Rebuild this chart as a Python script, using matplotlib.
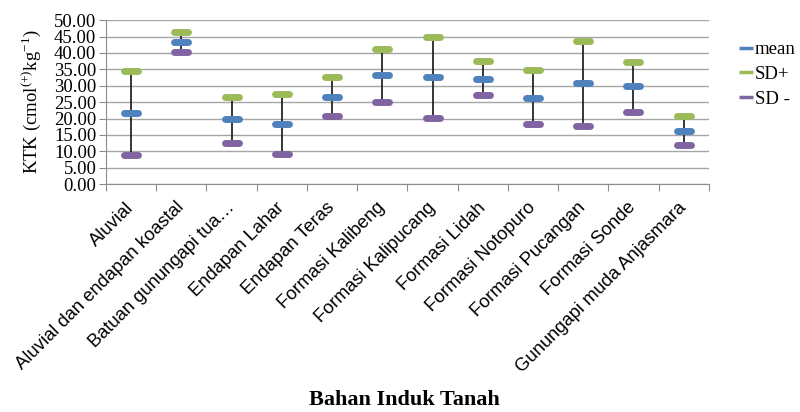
import matplotlib
matplotlib.use("Agg")
import matplotlib.pyplot as plt
from matplotlib.lines import Line2D
from matplotlib.markers import MarkerStyle
import numpy as np

plt.rcParams['mathtext.fontset'] = 'custom'
plt.rcParams['mathtext.rm'] = 'Liberation Serif'
plt.rcParams['mathtext.it'] = 'Liberation Serif:italic'

categories = [
    "Aluvial",
    "Aluvial dan endapan koastal",
    "Batuan gunungapi tua…",
    "Endapan Lahar",
    "Endapan Teras",
    "Formasi Kalibeng",
    "Formasi Kalipucang",
    "Formasi Lidah",
    "Formasi Notopuro",
    "Formasi Pucangan",
    "Formasi Sonde",
    "Gunungapi muda Anjasmara",
]
mean = [21.7, 43.2, 19.8, 18.2, 26.7, 33.4, 32.7, 32.2, 26.4, 30.7, 30.0, 16.2]
sd_plus = [34.6, 46.3, 26.7, 27.5, 32.6, 41.2, 44.9, 37.7, 34.9, 43.6, 37.3, 20.8]
sd_minus = [8.8, 40.4, 12.7, 9.1, 20.8, 25.2, 20.1, 27.1, 18.2, 17.8, 22.0, 11.9]

c_mean = "#4F81BD"
c_plus = "#9BBB59"
c_minus = "#8064A2"

fig = plt.figure(figsize=(8, 4.12), dpi=100)
ax = fig.add_axes([0.1325, 0.553, 0.7535, 0.398])

x = np.arange(len(categories))

# high-low lines
ax.vlines(x, sd_minus, sd_plus, color="#262626", lw=1.3, zorder=2)

bar = MarkerStyle("_", capstyle="round")
for vals, col in [(sd_plus, c_plus), (mean, c_mean), (sd_minus, c_minus)]:
    ax.plot(x, vals, ls="none", marker=bar, ms=10, mew=5, color=col, zorder=3)

ax.set_xlim(-0.5, len(categories) - 0.5)
ax.set_ylim(0, 50)
ax.set_yticks(np.arange(0, 50.01, 5))
ax.yaxis.set_major_formatter(matplotlib.ticker.FormatStrFormatter("%.2f"))
ax.grid(axis="y", color="#A6A6A6", lw=1)
ax.set_axisbelow(True)

for s in ["top", "right"]:
    ax.spines[s].set_visible(False)
for s in ["left", "bottom"]:
    ax.spines[s].set_color("#8C8C8C")

ax.set_xticks(np.arange(-0.5, len(categories) + 0.5, 1))
ax.set_xticklabels([])
ax.set_xticks(x, minor=True)
ax.set_xticklabels(categories, minor=True, rotation=45, ha="right",
                   va="center", rotation_mode="anchor", fontsize=13.2,
                   family="Liberation Sans")
ax.tick_params(axis="x", which="major", length=5, color="#8C8C8C", direction="out")
ax.tick_params(axis="x", which="minor", length=0, pad=15)
ax.tick_params(axis="y", length=5, color="#8C8C8C", direction="out", pad=2)
for lab in ax.get_yticklabels():
    lab.set_family("Liberation Serif")
    lab.set_fontsize(13.5)

ax.set_ylabel(r"KTK (cmol$^{\mathrm{(+)}}$kg$^{\mathrm{-1}}$)",
              family="Liberation Serif", fontsize=13.5, labelpad=8)

fig.text(0.506, 0.004, "Bahan Induk Tanah", ha="center", va="bottom",
         family="Liberation Serif", fontweight="bold", fontsize=16)

handles = [
    Line2D([], [], ls="none", marker="_", ms=10, mew=2.5, color=c_mean),
    Line2D([], [], ls="none", marker="_", ms=10, mew=2.5, color=c_plus),
    Line2D([], [], ls="none", marker="_", ms=10, mew=2.5, color=c_minus),
]
leg = fig.legend(handles, ["mean", "SD+", "SD -"], loc="upper left",
                 bbox_to_anchor=(0.926, 0.9), frameon=False,
                 prop={"family": "Liberation Serif", "size": 13.5},
                 handlelength=0.6, handletextpad=0.15, labelspacing=0.4,
                 borderpad=0, borderaxespad=0)

fig.savefig("out.png", dpi=100)
